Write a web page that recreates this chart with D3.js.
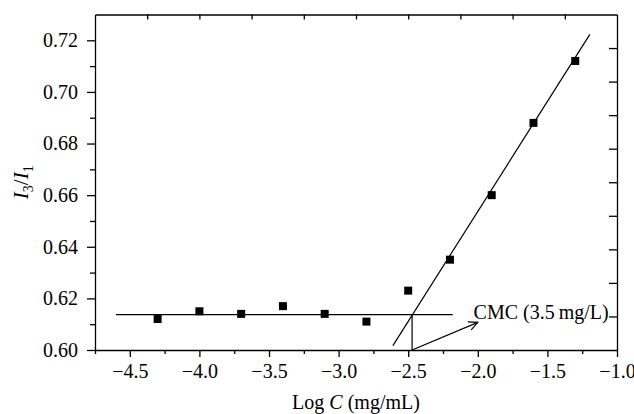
<!DOCTYPE html>
<meta charset="utf-8">
<head>
  <title>I3/I1 vs Log C</title>
</head>

<style>
body { margin: 0; background: #fff; }
svg { font-family: "Liberation Serif", "DejaVu Serif", serif; }
.axis path, .axis line { stroke: #000; stroke-width: 1.3px; }
.axis text { font-size: 20px; fill: #000; font-family: "Liberation Serif", serif; }
</style>

<body>
<svg width="634" height="414"></svg>
<script src="https://cdn.jsdelivr.net/npm/d3@7"></script>
<script>

// measured points
var logC  = [-4.3, -4.0, -3.7, -3.4, -3.1, -2.8, -2.5, -2.2, -1.9, -1.6, -1.3];
var ratio = [0.612, 0.615, 0.614, 0.617, 0.614, 0.611, 0.623, 0.635, 0.660, 0.688, 0.712];

// fitted lines
var flatLine  = [[-4.6, 0.6137], [-2.18, 0.6137]];
var steepLine = [[-2.61, 0.6017], [-1.195, 0.7223]];
var cmcX = -2.472, cmcY = 0.6137;
var arrowEnd = [-2.0, 0.6107];

var xTicks = [-4.5, -4.0, -3.5, -3.0, -2.5, -2.0, -1.5, -1.0];
var yTicks = [0.60, 0.62, 0.64, 0.66, 0.68, 0.70, 0.72];

var svg = d3.select("svg");
var margin = {left: 95, top: 14.5, right: 17, bottom: 64};
var width = 634 - margin.left - margin.right,
    height = 414 - margin.top - margin.bottom;

var g = svg.append("g").attr("transform", "translate(" + margin.left + "," + margin.top + ")");

var x = d3.scaleLinear().domain([-4.75, -1.0]).range([0, width]);
var y = d3.scaleLinear().domain([0.60, 0.73]).range([height, 0]);

function fmtMinus(d) { return d3.format(".1f")(d).replace("-", "\u2212"); }

// minor ticks
var xMinor = d3.range(-4.75, -0.99, 0.25).filter(function(d) { return xTicks.indexOf(+d.toFixed(2)) < 0; });
var yMinor = d3.range(0.61, 0.73, 0.02);

g.append("g").attr("class", "axis")
  .attr("transform", "translate(0," + height + ")")
  .call(d3.axisBottom(x).tickValues(xMinor).tickSize(4).tickFormat(""))
  .select(".domain").remove();

g.append("g").attr("class", "axis")
  .attr("transform", "translate(0," + height + ")")
  .call(d3.axisBottom(x).tickValues(xTicks).tickSize(7).tickPadding(7).tickFormat(fmtMinus).tickSizeOuter(0));

g.append("g").attr("class", "axis")
  .call(d3.axisLeft(y).tickValues(yMinor).tickSize(5).tickFormat(""))
  .select(".domain").remove();

g.append("g").attr("class", "axis")
  .call(d3.axisLeft(y).tickValues(yTicks).tickSize(8).tickPadding(9).tickFormat(d3.format(".2f")).tickSizeOuter(0));

// top and right frames with inward ticks
var topTicks = d3.range(1, 10).map(function(k) { return -4.75 + 0.375 * k; });
g.append("g").attr("class", "axis")
  .call(d3.axisTop(x).tickValues(topTicks).tickSize(-5).tickFormat("").tickSizeOuter(0));

var rightTicks = d3.range(1, 10).map(function(k) { return 0.60 + 0.013 * k; });
g.append("g").attr("class", "axis")
  .attr("transform", "translate(" + width + ",0)")
  .call(d3.axisRight(y).tickValues(rightTicks).tickSize(-8).tickFormat("").tickSizeOuter(0));

// lines
var line = d3.line().x(function(d) { return x(d[0]); }).y(function(d) { return y(d[1]); });
g.append("path").datum(flatLine).attr("d", line).attr("stroke", "#000").attr("stroke-width", 1.2).attr("fill", "none");
g.append("path").datum(steepLine).attr("d", line).attr("stroke", "#000").attr("stroke-width", 1.2).attr("fill", "none");
g.append("path").datum([[cmcX, cmcY], [cmcX, 0.60]]).attr("d", line).attr("stroke", "#000").attr("stroke-width", 1.2).attr("fill", "none");

// arrow
var ax0 = x(cmcX), ay0 = y(0.60), ax1 = x(arrowEnd[0]), ay1 = y(arrowEnd[1]);
g.append("line").attr("x1", ax0).attr("y1", ay0).attr("x2", ax1).attr("y2", ay1)
  .attr("stroke", "#000").attr("stroke-width", 1.2);
var ang = Math.atan2(ay1 - ay0, ax1 - ax0), hl = 10, spread = 0.45;
g.append("path")
  .attr("d", "M" + (ax1 - hl * Math.cos(ang - spread)) + "," + (ay1 - hl * Math.sin(ang - spread)) +
             "L" + ax1 + "," + ay1 +
             "L" + (ax1 - hl * Math.cos(ang + spread)) + "," + (ay1 - hl * Math.sin(ang + spread)))
  .attr("stroke", "#000").attr("stroke-width", 1.2).attr("fill", "none");

g.append("text")
  .attr("x", x(-2.03)).attr("y", y(0.6137) + 4)
  .attr("font-size", 20)
  .text("CMC (3.5\u2009mg/L)");

// points
var pts = logC.map(function(d, i) { return [d, ratio[i]]; });
g.selectAll("rect.pt").data(pts).enter().append("rect")
  .attr("class", "pt")
  .attr("x", function(d) { return x(d[0]) - 4; })
  .attr("y", function(d) { return y(d[1]) - 4; })
  .attr("width", 8).attr("height", 8)
  .attr("fill", "#000");

// axis titles
var xl = svg.append("text")
  .attr("x", margin.left + width / 2).attr("y", 409)
  .attr("text-anchor", "middle").attr("font-size", 20);
xl.append("tspan").text("Log ");
xl.append("tspan").attr("font-style", "italic").text("C");
xl.append("tspan").text(" (mg/mL)");

var yl = svg.append("text")
  .attr("transform", "translate(28," + (margin.top + height / 2) + ") rotate(-90)")
  .attr("text-anchor", "middle").attr("font-size", 21);
yl.append("tspan").attr("font-style", "italic").text("I");
yl.append("tspan").attr("font-size", 14).attr("dy", 5).text("3");
yl.append("tspan").attr("dy", -5).text("/");
yl.append("tspan").attr("font-style", "italic").text("I");
yl.append("tspan").attr("font-size", 14).attr("dy", 5).text("1");

</script>
</body>
